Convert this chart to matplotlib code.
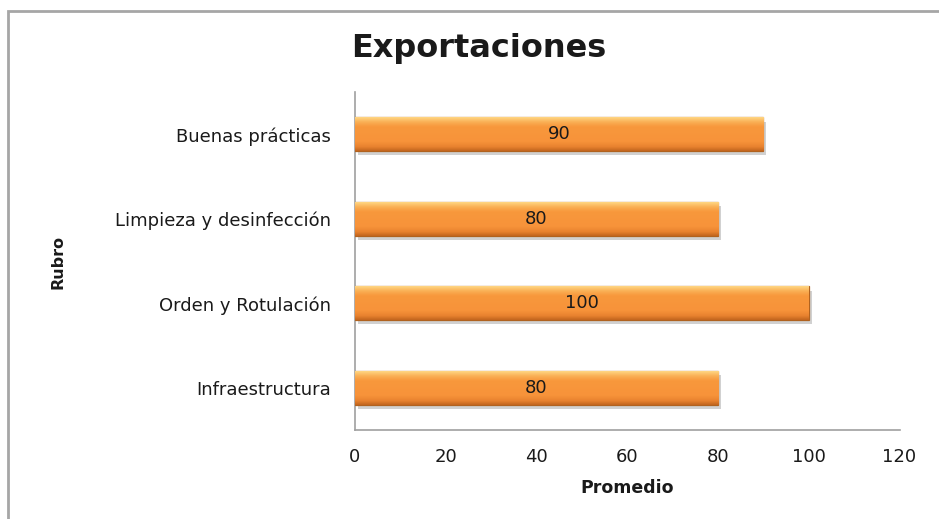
import numpy as np
import matplotlib.pyplot as plt
from matplotlib.patches import Rectangle
from matplotlib.colors import LinearSegmentedColormap
import matplotlib.patheffects as pe

categorias = ['Infraestructura', 'Orden y Rotulación', 'Limpieza y desinfección', 'Buenas prácticas']
promedios = [80, 100, 80, 90]
xticks = [0, 20, 40, 60, 80, 100, 120]

fig = plt.figure(figsize=(9.39, 5.19), dpi=100)
ax = fig.add_axes([0.378, 0.1715, 0.580, 0.651])

# marco exterior del grafico
fig.patches.append(Rectangle((8 / 939, -0.05), 1.1, 1 - 11 / 519 + 0.05,
                             transform=fig.transFigure, fill=False,
                             edgecolor='#A6A6A6', linewidth=2))

y = np.arange(len(categorias))
bars = ax.barh(y, promedios, height=0.4, color='#F79438', edgecolor='#B0621F',
               linewidth=0.9, zorder=3,
               path_effects=[pe.SimplePatchShadow(offset=(2, -3), shadow_rgbFace='#999999', alpha=0.45),
                             pe.Normal()])

# degradado tipo bisel en cada barra
grad = np.linspace(0, 1, 100).reshape(-1, 1)
cmap = LinearSegmentedColormap.from_list('bisel', [(0, '#C2651E'), (0.12, '#E8822F'),
                                                   (0.28, '#F7933A'), (0.72, '#F8983C'),
                                                   (0.86, '#FAB055'), (1, '#FFD683')])
for b in bars:
    x0, y0, w, h = b.get_x(), b.get_y(), b.get_width(), b.get_height()
    im = ax.imshow(grad, extent=[x0, x0 + w, y0, y0 + h], origin='lower',
                   aspect='auto', cmap=cmap, zorder=4)
    im.set_clip_path(b)
    ax.text(x0 + w / 2, y0 + h / 2, '{}'.format(int(w)), ha='center', va='center',
            fontsize=13, color='#1a1a1a', zorder=5)

ax.set_xlim(0, 120)
ax.set_ylim(-0.5, len(categorias) - 0.5)
ax.set_xticks(xticks)
ax.set_xticklabels([str(t) for t in xticks], fontsize=13, color='#1a1a1a')
ax.set_yticks(y)
ax.set_yticklabels(categorias, fontsize=13, color='#1a1a1a')
ax.tick_params(length=0)
ax.tick_params(axis='y', pad=17)
ax.tick_params(axis='x', pad=13)

for s in ['top', 'right']:
    ax.spines[s].set_visible(False)
for s in ['left', 'bottom']:
    ax.spines[s].set_color('#A0A0A0')
    ax.spines[s].set_linewidth(1.2)

ax.set_xlabel('Promedio', fontsize=12.5, fontweight='bold', color='#1a1a1a', labelpad=9)
fig.text(58 / 939, 1 - 262 / 519, 'Rubro', rotation=90, ha='center', va='center',
         fontsize=11.5, fontweight='bold', color='#1a1a1a')
fig.text(479 / 939, 1 - 48 / 519, 'Exportaciones', ha='center', va='center',
         fontsize=23, fontweight='bold', color='#1a1a1a')

fig.savefig('out.png', dpi=100)
